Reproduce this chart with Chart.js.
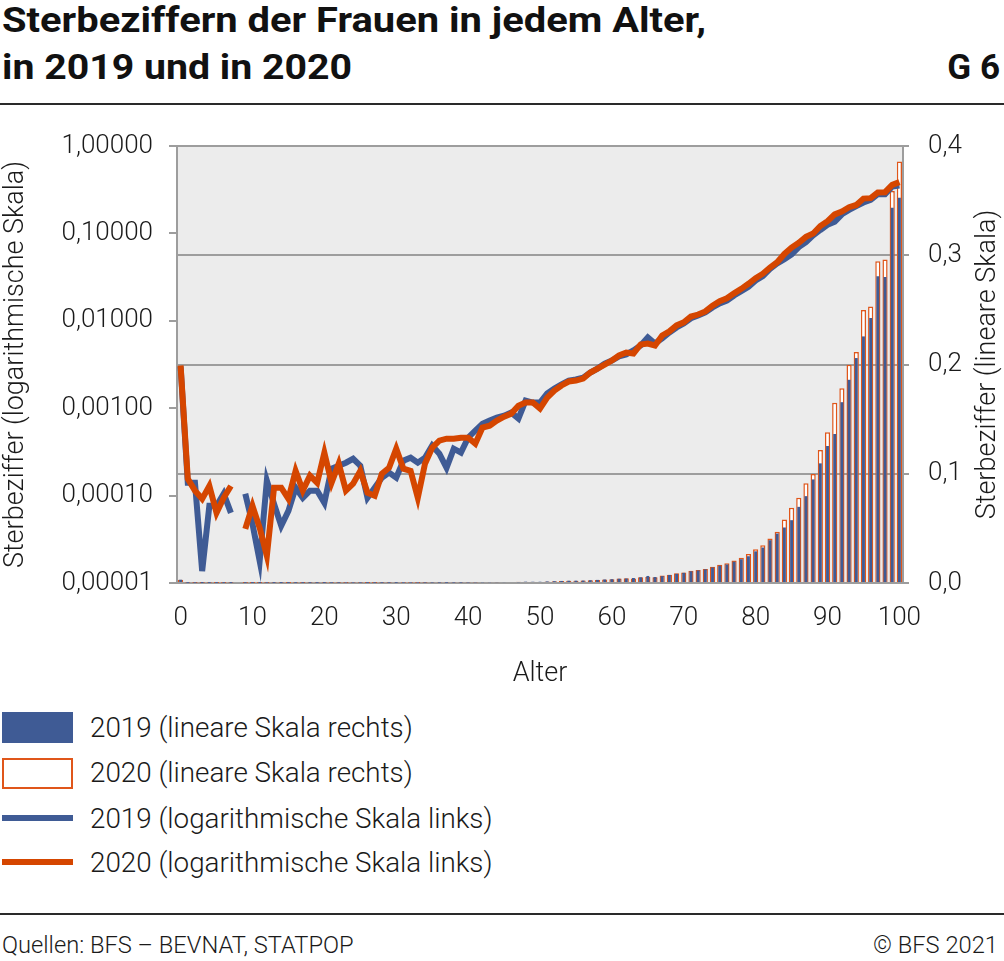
<!DOCTYPE html>
<html><head><meta charset="utf-8">
<script src="https://cdn.jsdelivr.net/npm/chart.js@4.4.0/dist/chart.umd.min.js"></script>
<style>
body{margin:0;width:1004px;height:961px;position:relative;background:#fff;font-family:Roboto,"Noto Sans",sans-serif;color:#1a1a1a;overflow:hidden}
.title{position:absolute;left:2px;font-weight:700;font-size:35px;line-height:35px;white-space:nowrap;transform-origin:left top;color:#111}
.g6{position:absolute;right:4px;top:50px;font-weight:700;font-size:35px;line-height:35px;color:#111}
.rule{position:absolute;left:0;width:1004px;height:2px;background:#2a2a2a}
#wrap{position:absolute;left:0;top:120px;width:1004px;height:580px}
.leg{position:absolute;left:90px;font-size:27.8px;font-weight:300;line-height:30px;white-space:nowrap;color:#1a1a1a}
.sw{position:absolute;left:2px;width:71px}
.foot{position:absolute;top:932px;font-size:23.7px;font-weight:300;line-height:26px;color:#1a1a1a;white-space:nowrap}
</style></head>
<body>
<div class="title" id="t1" style="top:3px">Sterbeziffern der Frauen in jedem Alter,</div>
<div class="title" id="t2" style="top:50px">in 2019 und in 2020</div>
<div class="g6">G 6</div>
<div class="rule" style="top:103px"></div>
<div id="wrap"><canvas id="c"></canvas></div>

<div class="sw" style="top:712px;height:31px;background:#3f5b95"></div>
<div class="leg" style="top:713px">2019 (lineare Skala rechts)</div>
<div class="sw" style="top:758px;height:27px;background:#fff;border:2px solid #e0561a;width:67px"></div>
<div class="leg" style="top:758px">2020 (lineare Skala rechts)</div>
<div class="sw" style="top:815px;height:6px;background:#3f5b95"></div>
<div class="leg" style="top:804px">2019 (logarithmische Skala links)</div>
<div class="sw" style="top:859px;height:6px;background:#d54600"></div>
<div class="leg" style="top:848px">2020 (logarithmische Skala links)</div>

<div class="rule" style="top:913px"></div>
<div class="foot" style="left:2px">Quellen: BFS – BEVNAT, STATPOP</div>
<div class="foot" style="right:6px">© BFS 2021</div>

<script>
// Categories: age in years
const ages = [0,1,2,3,4,5,6,7,8,9,10,11,12,13,14,15,16,17,18,19,20,21,22,23,24,25,26,27,28,29,30,31,32,33,34,35,36,37,38,39,40,41,42,43,44,45,46,47,48,49,50,51,52,53,54,55,56,57,58,59,60,61,62,63,64,65,66,67,68,69,70,71,72,73,74,75,76,77,78,79,80,81,82,83,84,85,86,87,88,89,90,91,92,93,94,95,96,97,98,99,100];

// Death rates of women, 2019
const rate2019 = [
 0.00300, 0.000140, 0.000140, 0.0000137, 0.0000764, 0.0000764, 0.000105, 0.0000635, 0, 0.000105,
 0.0000475, 0.0000179, 0.000148, 0.0000805, 0.0000451, 0.0000670, 0.000123, 0.0000944, 0.000114, 0.000114,
 0.0000826, 0.000203, 0.000220, 0.000238, 0.000264, 0.000220, 0.0000944, 0.000123, 0.000160, 0.000183,
 0.000160, 0.000251, 0.000271, 0.000238, 0.000271, 0.000373, 0.000302, 0.000208, 0.000344, 0.000310,
 0.000460, 0.000553, 0.000665, 0.000721, 0.000780, 0.000822, 0.000891, 0.000760, 0.00122, 0.00116,
 0.00116, 0.00147, 0.00168, 0.00187, 0.00207, 0.00213, 0.00224, 0.00256, 0.00284, 0.00324,
 0.00351, 0.00391, 0.00412, 0.00458, 0.00522, 0.00645, 0.00550, 0.00628, 0.00736, 0.00840,
 0.00933, 0.0107, 0.0115, 0.0125, 0.0142, 0.0158, 0.0170, 0.0195, 0.0218, 0.0245,
 0.0290, 0.0325, 0.0392, 0.0453, 0.0508, 0.0575, 0.0697, 0.0795, 0.0948, 0.1095,
 0.1254, 0.1364, 0.1655, 0.1860, 0.2059, 0.2257, 0.2426, 0.2807, 0.2800, 0.3435,
 0.3527];

// Death rates of women, 2020
const rate2020 = [
 0.00308, 0.000156, 0.000114, 0.0000918, 0.000129, 0.0000635, 0.0000944, 0.000129, 0, 0.0000416,
 0.0000764, 0.0000428, 0.0000204, 0.000123, 0.000123, 0.0000918, 0.000192, 0.000114, 0.000169, 0.000140,
 0.000310, 0.000140, 0.000232, 0.000114, 0.000137, 0.000192, 0.000108, 0.0000995, 0.000178, 0.000208,
 0.000344, 0.000203, 0.000192, 0.0000944, 0.000232, 0.000353, 0.000425, 0.000448, 0.000448, 0.000460,
 0.000460, 0.000393, 0.000600, 0.000631, 0.000721, 0.000801, 0.000867, 0.00107, 0.00116, 0.00116,
 0.000989, 0.00132, 0.00159, 0.00182, 0.00202, 0.00207, 0.00218, 0.00256, 0.00284, 0.00316,
 0.00351, 0.00401, 0.00434, 0.00423, 0.00536, 0.00550, 0.00522, 0.00680, 0.00756, 0.00886,
 0.00959, 0.0112, 0.0118, 0.0128, 0.0149, 0.0168, 0.0181, 0.0206, 0.0232, 0.0265,
 0.0308, 0.0346, 0.0407, 0.0468, 0.0582, 0.0688, 0.0780, 0.0912, 0.0997, 0.1217,
 0.1380, 0.1650, 0.1783, 0.1997, 0.2114, 0.2500, 0.2530, 0.2945, 0.2960, 0.3587,
 0.3857];

const logTicks = [0.00001, 0.0001, 0.001, 0.01, 0.1, 1];
const linTicks = [0, 0.1, 0.2, 0.3, 0.4];
const xTickLabels = [0,10,20,30,40,50,60,70,80,90,100];

const BLUE = '#3f5b95', ORANGE = '#d54600', ORANGE_BAR = '#e0561a', GRID = '#9d9d9d';
const tickFont = {family:'Roboto', size:26, weight:'300'};
const titleFont = {family:'Roboto', size:27, weight:'300'};

// fit titles
function fit(id, w){ const el=document.getElementById(id); const r=el.getBoundingClientRect().width; el.style.transform='scaleX('+(w/r)+')'; }
fit('t1', 704); fit('t2', 350);

const bgPlugin = {
  id:'bg',
  beforeDraw(chart){
    const {ctx, chartArea:a} = chart;
    ctx.save(); ctx.fillStyle='#ececec'; ctx.fillRect(a.left,a.top,a.right-a.left,a.bottom-a.top); ctx.restore();
  },
  afterDraw(chart){
    const {ctx, chartArea:a} = chart;
    ctx.save();
    ctx.font = '300 27px Roboto';
    ctx.fillStyle = '#1a1a1a';
    ctx.textAlign='center'; ctx.textBaseline='middle';
    ctx.translate(988, (a.top+a.bottom)/2);
    ctx.rotate(-Math.PI/2);
    ctx.fillText('Sterbeziffer (lineare Skala)', 0, 0);
    ctx.restore();
  }
};

function noPad(s){ s.paddingTop = 0; s.paddingBottom = 0; }

new Chart(document.getElementById('c'), {
  data: {
    labels: ages,
    datasets: [
      {type:'line', label:'2020 (logarithmische Skala links)', data: rate2020.map(v=>v>0?v:null), yAxisID:'yLog',
       borderColor:ORANGE, borderWidth:6, pointRadius:0, tension:0, borderJoinStyle:'miter', spanGaps:false, order:0},
      {type:'line', label:'2019 (logarithmische Skala links)', data: rate2019.map(v=>v>0?v:null), yAxisID:'yLog',
       borderColor:BLUE, borderWidth:6, pointRadius:0, tension:0, borderJoinStyle:'miter', spanGaps:false, order:1},
      {type:'bar', label:'2019 (lineare Skala rechts)', data: rate2019, yAxisID:'yLin',
       backgroundColor:BLUE, borderWidth:0, grouped:false, categoryPercentage:1, barPercentage:0.4, order:2},
      {type:'bar', label:'2020 (lineare Skala rechts)', data: rate2020, yAxisID:'yLin',
       backgroundColor:'#ffffff', borderColor:ORANGE_BAR, borderWidth:1.5, grouped:false, categoryPercentage:1, barPercentage:0.72, order:3}
    ]
  },
  options: {
    responsive:true, maintainAspectRatio:false, animation:false,
    layout:{padding:{top:26, left:0, right:0, bottom:0}},
    plugins:{legend:{display:false}, tooltip:{enabled:false}},
    scales:{
      x:{type:'category', offset:true,
         grid:{display:false}, border:{display:true, color:GRID, width:2},
         ticks:{autoSkip:false, maxRotation:0, padding:12, font:tickFont, color:'#1a1a1a',
                callback:(v,i)=> xTickLabels.includes(ages[i]) ? String(ages[i]) : null},
         title:{display:true, text:'Alter', font:titleFont, color:'#1a1a1a', padding:{top:0,bottom:10}},
         afterFit:(s)=>{ s.height = 117; s.paddingLeft = 0; s.paddingRight = 0; }},
      yLog:{type:'logarithmic', position:'left', min:0.00001, max:1,
         afterBuildTicks:(s)=>{ s.ticks = logTicks.map(v=>({value:v})); },
         grid:{display:true, drawOnChartArea:false, drawTicks:true, tickLength:8, color:GRID, lineWidth:2},
         border:{display:true, color:GRID, width:2},
         ticks:{padding:16, font:tickFont, color:'#1a1a1a', callback:(v)=> Number(v).toFixed(5).replace('.', ',')},
         title:{display:true, text:'Sterbeziffer (logarithmische Skala)', font:titleFont, color:'#1a1a1a', padding:0},
         afterFit:(s)=>{ s.width = 177; noPad(s); }},
      yLin:{type:'linear', position:'right', min:0, max:0.4,
         afterBuildTicks:(s)=>{ s.ticks = linTicks.map(v=>({value:v})); },
         grid:{display:true, drawOnChartArea:true, drawTicks:true, tickLength:6, color:GRID, lineWidth:2},
         border:{display:true, color:GRID, width:2},
         ticks:{padding:19, font:tickFont, color:'#1a1a1a', callback:(v)=> Number(v).toFixed(1).replace('.', ',')},
         afterFit:(s)=>{ s.width = 101; noPad(s); }}
    }
  },
  plugins:[bgPlugin]
});
</script>
</body></html>
